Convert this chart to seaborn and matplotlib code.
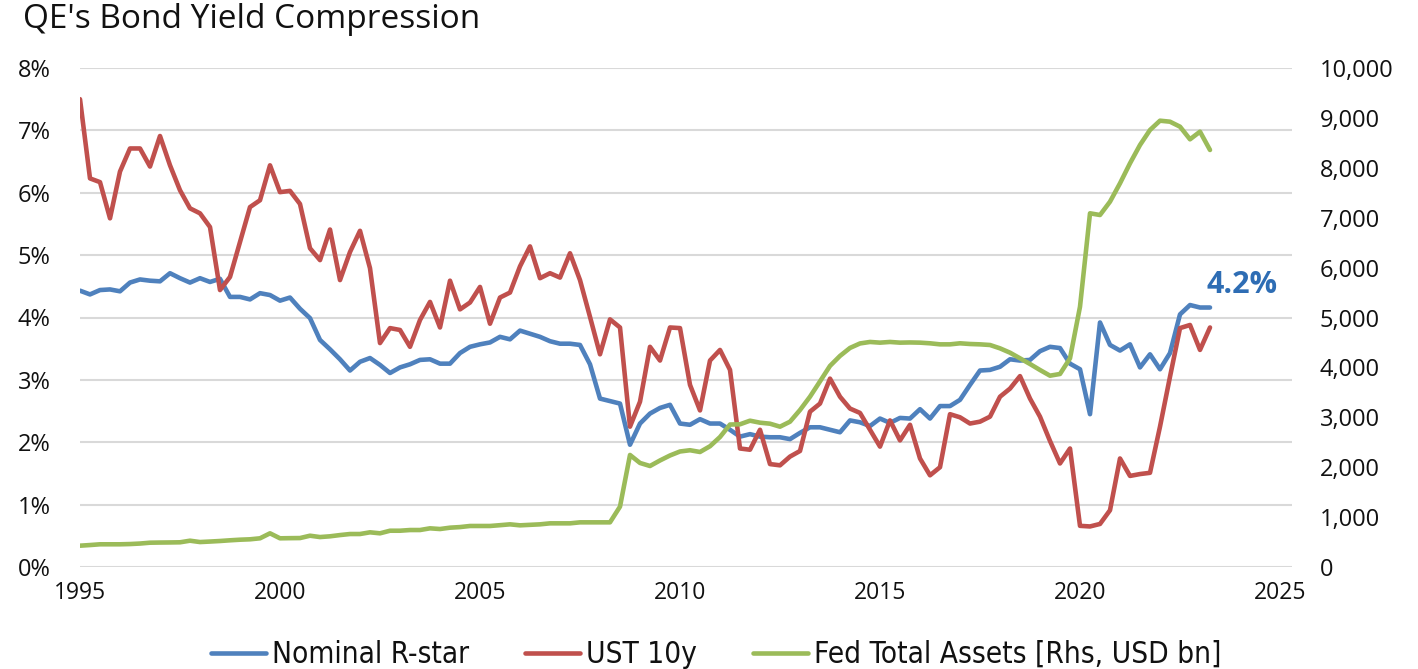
import numpy as np
import pandas as pd
import seaborn as sns
import matplotlib.pyplot as plt
from matplotlib import font_manager as fm
from matplotlib.ticker import FuncFormatter

# quarterly series, 1995Q1 .. 2023Q2
ust_10y = [7.50, 6.23, 6.17, 5.59, 6.34, 6.71, 6.71, 6.42, 6.91, 6.44,
           6.04, 5.75, 5.67, 5.45, 4.44, 4.65, 5.21, 5.77, 5.88, 6.44,
           6.01, 6.03, 5.82, 5.11, 4.92, 5.41, 4.60, 5.05, 5.39, 4.79,
           3.59, 3.83, 3.80, 3.53, 3.96, 4.25, 3.84, 4.59, 4.13, 4.24,
           4.49, 3.90, 4.32, 4.40, 4.82, 5.14, 4.63, 4.71, 4.64, 5.03,
           4.60, 4.01, 3.41, 3.97, 3.84, 2.25, 2.65, 3.53, 3.31, 3.84,
           3.83, 2.92, 2.51, 3.31, 3.48, 3.16, 1.90, 1.88, 2.20, 1.65,
           1.63, 1.77, 1.86, 2.49, 2.62, 3.02, 2.73, 2.54, 2.47, 2.20,
           1.93, 2.35, 2.03, 2.28, 1.74, 1.47, 1.60, 2.45, 2.40, 2.30,
           2.33, 2.41, 2.73, 2.86, 3.06, 2.70, 2.41, 2.02, 1.66, 1.90,
           0.66, 0.65, 0.69, 0.91, 1.74, 1.46, 1.49, 1.51, 2.25, 3.05,
           3.83, 3.88, 3.48, 3.84]

r_star = [4.43, 4.37, 4.44, 4.45, 4.42, 4.56, 4.61, 4.59, 4.58, 4.71,
          4.63, 4.56, 4.63, 4.57, 4.62, 4.33, 4.33, 4.29, 4.39, 4.36,
          4.27, 4.32, 4.14, 3.99, 3.64, 3.49, 3.33, 3.15, 3.29, 3.35,
          3.24, 3.11, 3.20, 3.25, 3.32, 3.33, 3.26, 3.26, 3.43, 3.53,
          3.57, 3.60, 3.69, 3.65, 3.79, 3.74, 3.69, 3.62, 3.58, 3.58,
          3.56, 3.25, 2.70, 2.66, 2.62, 1.96, 2.30, 2.46, 2.55, 2.60,
          2.30, 2.28, 2.37, 2.30, 2.30, 2.20, 2.09, 2.13, 2.09, 2.08,
          2.08, 2.05, 2.15, 2.24, 2.24, 2.20, 2.16, 2.35, 2.32, 2.26,
          2.38, 2.31, 2.39, 2.38, 2.53, 2.38, 2.58, 2.58, 2.68, 2.92,
          3.15, 3.16, 3.21, 3.33, 3.31, 3.32, 3.46, 3.53, 3.51, 3.26,
          3.17, 2.45, 3.92, 3.56, 3.47, 3.57, 3.20, 3.41, 3.17, 3.43,
          4.05, 4.20, 4.16, 4.16]

fed_assets = [427, 440, 455, 455, 455, 460, 470, 487, 490, 492,
              495, 527, 500, 510, 521, 535, 547, 555, 575, 675,
              575, 578, 580, 627, 600, 615, 640, 661, 661, 695,
              675, 727, 727, 741, 741, 775, 761, 788, 800, 822,
              822, 822, 838, 855, 835, 845, 855, 875, 875, 875,
              895, 895, 895, 895, 1210, 2245, 2085, 2024, 2135, 2235,
              2315, 2340, 2305, 2420, 2605, 2855, 2860, 2932, 2892, 2872,
              2812, 2912, 3146, 3413, 3720, 4030, 4230, 4390, 4480, 4510,
              4496, 4510, 4496, 4500, 4496, 4483, 4462, 4462, 4483, 4469,
              4462, 4449, 4382, 4295, 4182, 4068, 3948, 3834, 3868, 4182,
              5216, 7088, 7054, 7321, 7689, 8090, 8457, 8758, 8944, 8924,
              8824, 8571, 8724, 8357]

quarters = 1995 + 0.25 * np.arange(len(ust_10y))

df = pd.DataFrame({'date': quarters,
                   'Nominal R-star': np.array(r_star) / 100,
                   'UST 10y': np.array(ust_10y) / 100,
                   'Fed Total Assets [Rhs, USD bn]': fed_assets})

sns.set_style('white')
plt.rcParams['font.family'] = ['Open Sans', 'DejaVu Sans']
plt.rcParams['text.color'] = '#111111'
plt.rcParams['xtick.color'] = '#111111'
plt.rcParams['ytick.color'] = '#111111'

blue, red, green = '#4F81BD', '#C0504D', '#9BBB59'

fig = plt.figure(figsize=(14.18, 6.69), dpi=100)
ax = fig.add_axes([80 / 1418, 1 - 567 / 669, 1212 / 1418, 499 / 669])
ax2 = ax.twinx()

sns.lineplot(data=df, x='date', y='Nominal R-star', ax=ax, color=blue,
             lw=3.3, label='Nominal R-star', legend=False)
sns.lineplot(data=df, x='date', y='UST 10y', ax=ax, color=red,
             lw=3.3, label='UST 10y', legend=False)
sns.lineplot(data=df, x='date', y='Fed Total Assets [Rhs, USD bn]', ax=ax2,
             color=green, lw=3.3, label='Fed Total Assets [Rhs, USD bn]',
             legend=False)

ax.set_xlim(1995, 2025.3)
ax.set_ylim(0, 0.08)
ax2.set_ylim(0, 10000)
ax.set_xticks(range(1995, 2026, 5))
ax.set_yticks(np.arange(0, 0.081, 0.01))
ax2.set_yticks(range(0, 10001, 1000))
ax.yaxis.set_major_formatter(FuncFormatter(lambda v, p: f'{v * 100:.0f}%'))
ax2.yaxis.set_major_formatter(FuncFormatter(lambda v, p: f'{v:,.0f}'))

ax.grid(axis='y', color='#D9D9D9', lw=1.5)
ax.grid(axis='x', visible=False)
ax.set_axisbelow(True)
for a in (ax, ax2):
    for s in a.spines.values():
        s.set_visible(False)
    a.set_xlabel('')
    a.set_ylabel('')
ax.tick_params(axis='x', length=0, pad=10, labelsize=16.5)
ax.tick_params(axis='y', length=0, pad=21, labelsize=17)
ax2.tick_params(axis='y', length=0, pad=20, labelsize=17)

# last value label
ax.text(2023.15, r_star[-1] / 100 + 0.0036, f'{r_star[-1]:.1f}%',
        color='#2E6DB4', fontsize=22, fontweight='bold', va='center', ha='left')

fig.text(0.016, 0.995, "QE's Bond Yield Compression", fontsize=24,
         va='top', ha='left')

# narrow legend font if there is one
leg_font = {'family': 'Open Sans', 'size': 20}
cond = fm.findfont(fm.FontProperties(family='DejaVu Sans', stretch='condensed'))
if 'Condensed' in cond:
    leg_font = {'family': 'DejaVu Sans', 'stretch': 'condensed', 'size': 21.3}

h1, l1 = ax.get_legend_handles_labels()
h2, l2 = ax2.get_legend_handles_labels()
fig.legend(h1 + h2, l1 + l2, loc='lower center', ncol=3, frameon=False,
           bbox_to_anchor=(0.505, -0.04), handlelength=1.85, handletextpad=0.2,
           columnspacing=1.9, prop=leg_font)

fig.savefig('out.png', dpi=100)
